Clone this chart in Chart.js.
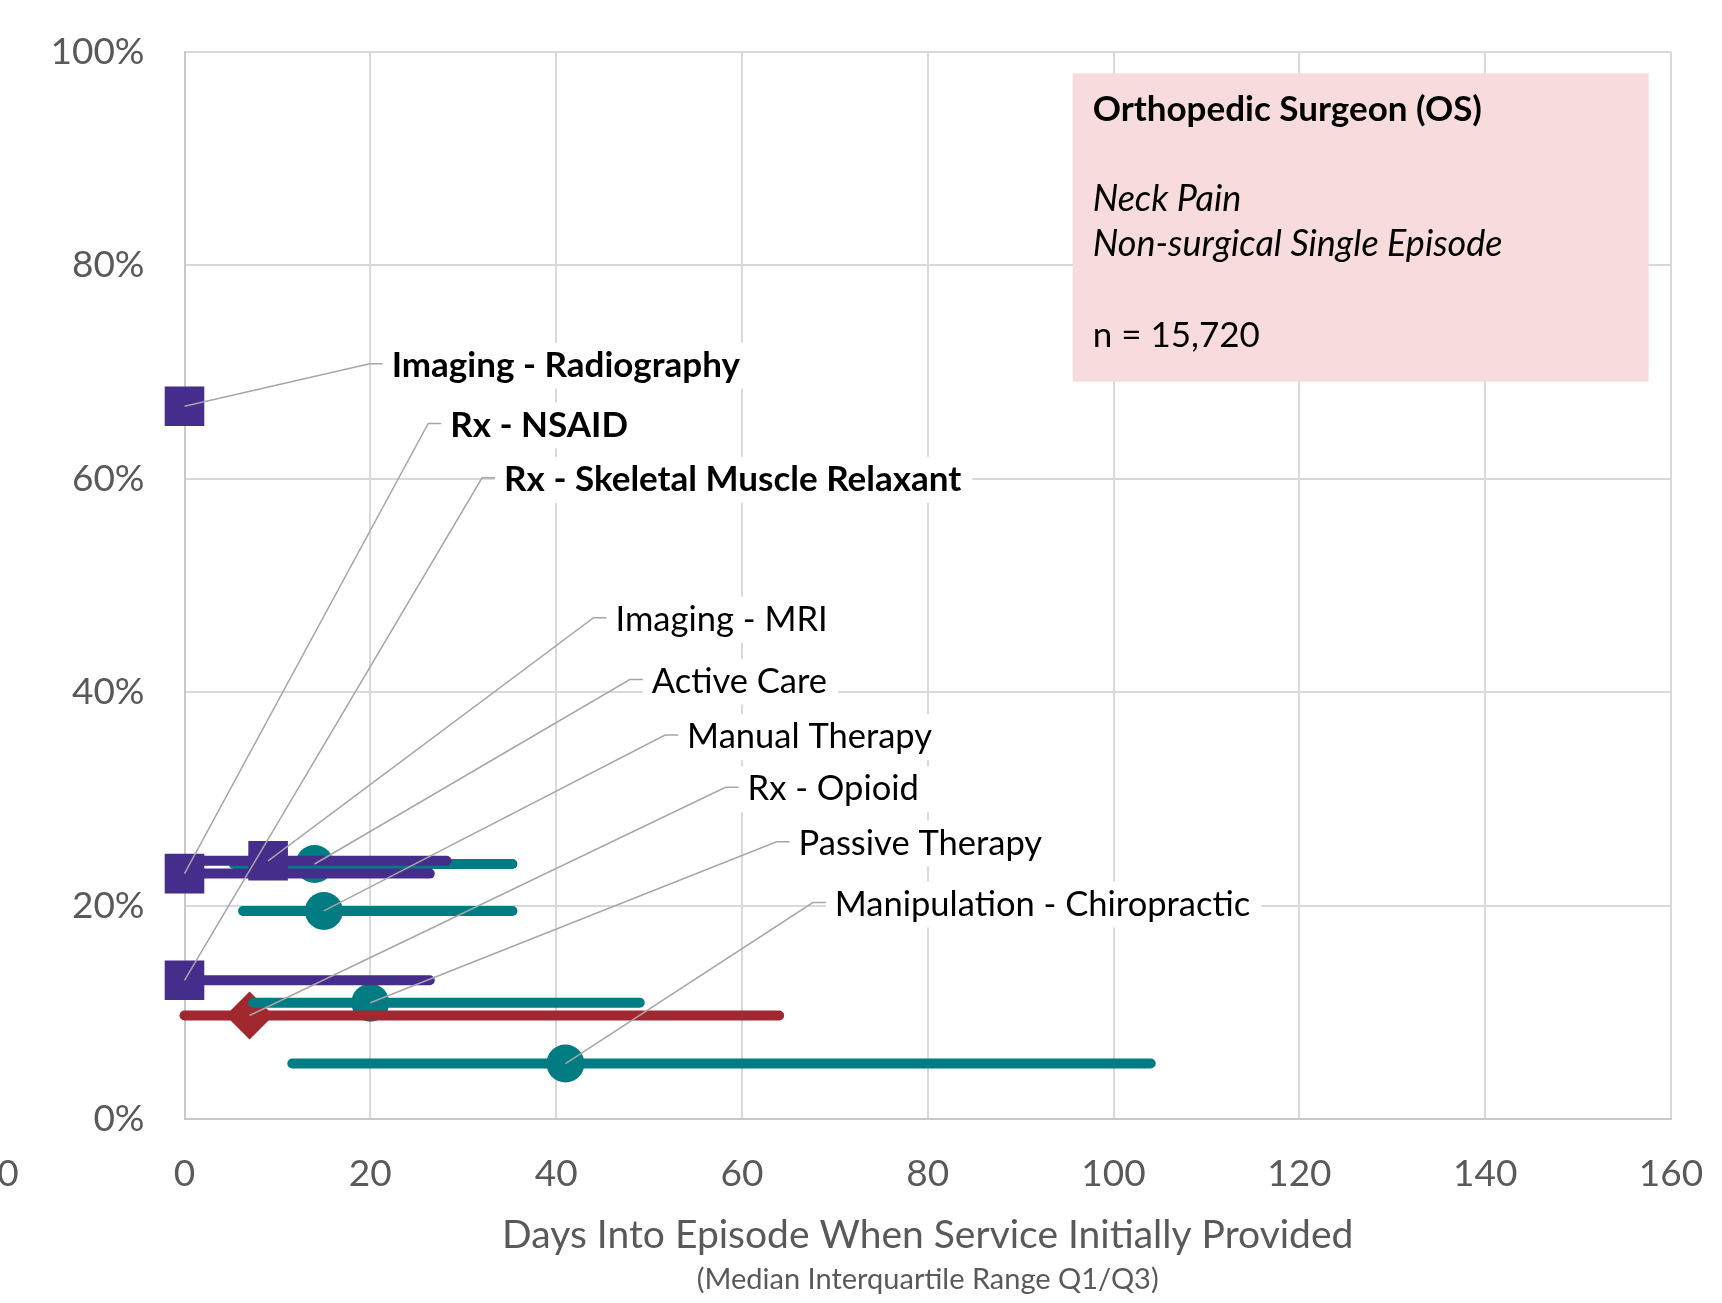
<!DOCTYPE html>
<html lang="en">
<head>
<meta charset="UTF-8">
<title>Orthopedic Surgeon - Neck Pain</title>
<script src="https://cdn.jsdelivr.net/npm/chart.js"></script>
<style>
  body { margin: 0; background: #fff; }
</style>
</head>
<body>
<canvas id="chart" width="1722" height="1303"></canvas>
<script>
// services, top label first
const services = [
  'Imaging - Radiography', 'Rx - NSAID', 'Rx - Skeletal Muscle Relaxant',
  'Imaging - MRI', 'Active Care', 'Manual Therapy', 'Rx - Opioid',
  'Passive Therapy', 'Manipulation - Chiropractic'
];
const groups = ['purple', 'purple', 'purple', 'purple', 'teal', 'teal', 'red', 'teal', 'teal'];
const pctProvided = [66.8, 23.0, 13.0, 24.2, 23.9, 19.5, 9.7, 10.9, 5.2];   // % of episodes
const medianDays = [0, 0, 0, 9, 14, 15, 7, 20, 41];
const q1Days = [0, 0, 0, 1, 5.3, 6.3, 0, 7.4, 11.6];
const q3Days = [0, 26.4, 26.4, 28.2, 35.3, 35.3, 64, 49, 104];
const boldLabel = [true, true, true, false, false, false, false, false, false];

const xTicks = [0, 20, 40, 60, 80, 100, 120, 140, 160];
const yTicks = [0, 20, 40, 60, 80, 100];

// where the data labels sit (days, %)
const labelAt = [
  [22.3, 70.6], [28.6, 65.0], [34.4, 59.9], [46.4, 46.8], [50.3, 41.0],
  [54.1, 35.8], [60.6, 30.9], [66.1, 25.8], [70.0, 20.1]
];

const colors = { purple: '#452D8B', teal: '#007C82', red: '#A1282E' };
const markerStyle = {
  purple: { pointStyle: 'rect', radius: 28, order: 0 },
  teal: { pointStyle: 'circle', radius: 19, order: 5 },
  red: { pointStyle: 'rectRot', radius: 24, order: 3 }
};
const lineOrder = { purple: 1, teal: 2, red: 4 };

const FONT = 'Lato, "Open Sans", sans-serif';

const datasets = [];
services.forEach((name, i) => {
  const g = groups[i];
  datasets.push({
    label: name + ' Q1/Q3',
    data: [{ x: q1Days[i], y: pctProvided[i] }, { x: q3Days[i], y: pctProvided[i] }],
    showLine: true,
    clip: false,
    borderColor: colors[g],
    borderWidth: 10,
    borderCapStyle: 'round',
    pointRadius: 0,
    order: lineOrder[g]
  });
  datasets.push({
    label: name,
    data: [{ x: medianDays[i], y: pctProvided[i] }],
    clip: false,
    pointStyle: markerStyle[g].pointStyle,
    pointRadius: markerStyle[g].radius,
    pointHoverRadius: markerStyle[g].radius,
    backgroundColor: colors[g],
    borderWidth: 0,
    order: markerStyle[g].order
  });
});

const annotate = {
  id: 'annotate',
  beforeDatasetsDraw(chart) {
    const { ctx, scales: { x, y } } = chart;
    // info box
    const left = x.getPixelForValue(95.6), right = x.getPixelForValue(157.6);
    const top = y.getPixelForValue(98), bottom = y.getPixelForValue(69.1);
    ctx.save();
    ctx.fillStyle = '#F8DCDD';
    ctx.fillRect(left, top, right - left, bottom - top);
    ctx.fillStyle = '#000';
    ctx.textBaseline = 'middle';
    ctx.textAlign = 'left';
    ctx.font = 'bold 35px ' + FONT;
    ctx.fillText('Orthopedic Surgeon (OS)', left + 20, top + 36);
    ctx.font = 'italic 36px ' + FONT;
    ctx.fillText('Neck Pain', left + 20, top + 126);
    ctx.fillText('Non-surgical Single Episode', left + 20, top + 171);
    ctx.font = '35px ' + FONT;
    ctx.fillText('n = 15,720', left + 20, top + 262);
    ctx.restore();
  },
  afterDatasetsDraw(chart) {
    const { ctx, chartArea, scales: { x, y } } = chart;
    ctx.save();
    ctx.textBaseline = 'middle';
    ctx.textAlign = 'left';
    services.forEach((name, i) => {
      const tx = x.getPixelForValue(labelAt[i][0]);
      const ty = y.getPixelForValue(labelAt[i][1]);
      ctx.font = (boldLabel[i] ? 'bold 35px ' : '34.5px ') + FONT;
      const w = ctx.measureText(name).width;
      ctx.fillStyle = '#fff';
      ctx.fillRect(tx - 9, ty - 23, w + 20, 46);
      // leader line
      const px = x.getPixelForValue(medianDays[i]);
      const py = y.getPixelForValue(pctProvided[i]);
      ctx.strokeStyle = '#A6A6A6';
      ctx.lineWidth = 1.5;
      ctx.beginPath();
      ctx.moveTo(tx - 9, ty - 2);
      ctx.lineTo(tx - 22, ty - 2);
      ctx.lineTo(px, py);
      ctx.stroke();
      ctx.fillStyle = '#000';
      ctx.fillText(name, tx, ty);
    });

    // axis titles
    const cx = (chartArea.left + chartArea.right) / 2;
    ctx.textAlign = 'center';
    ctx.fillStyle = '#595959';
    ctx.font = '39px ' + FONT;
    ctx.fillText('Days Into Episode When Service Initially Provided', cx, chartArea.bottom + 116);
    ctx.font = '29px ' + FONT;
    ctx.fillText('(Median Interquartile Range Q1/Q3)', cx, chartArea.bottom + 161);

    // stray axis label at the far left
    ctx.font = '37px ' + FONT;
    ctx.fillText('0', x.getPixelForValue(-19), chartArea.bottom + 55);
    ctx.restore();
  }
};

new Chart(document.getElementById('chart'), {
  type: 'scatter',
  data: { datasets },
  options: {
    responsive: false,
    animation: false,
    layout: { padding: { left: 0, right: 51, top: 52, bottom: 0 } },
    plugins: { legend: { display: false }, tooltip: { enabled: false } },
    scales: {
      x: {
        type: 'linear',
        min: 0, max: 160,
        afterBuildTicks: s => { s.ticks = xTicks.map(v => ({ value: v })); },
        afterFit: s => { s.height = 184; s.paddingLeft = 0; s.paddingRight = 0; },
        grid: { color: '#D9D9D9', lineWidth: 2, drawTicks: false },
        border: { color: '#C8C8C8', width: 2 },
        ticks: { color: '#595959', font: { family: FONT, size: 37 }, padding: 33, maxRotation: 0 }
      },
      y: {
        min: 0, max: 100,
        afterBuildTicks: s => { s.ticks = yTicks.map(v => ({ value: v })); },
        afterFit: s => { s.width = 184.5; s.paddingTop = 0; s.paddingBottom = 0; },
        grid: { color: '#D9D9D9', lineWidth: 2, drawTicks: false },
        border: { color: '#C8C8C8', width: 2 },
        ticks: { color: '#595959', font: { family: FONT, size: 37 }, padding: 40, callback: v => v + '%' }
      }
    }
  },
  plugins: [annotate]
});
</script>
</body>
</html>
